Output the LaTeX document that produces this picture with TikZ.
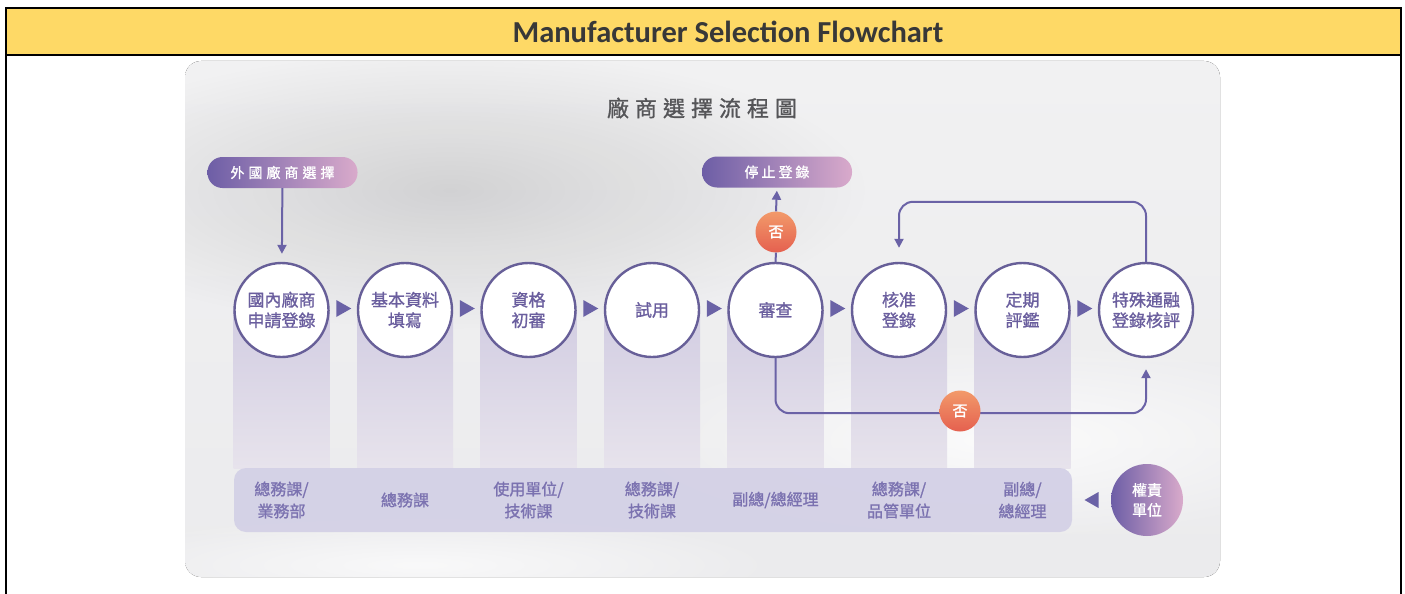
\documentclass[tikz,border=0pt]{standalone}
\usepackage{fontspec}
\setmainfont{Carlito}
\newfontfamily\cjk[FakeBold=1.2]{Noto Sans CJK TC}
\usetikzlibrary{shapes.geometric,arrows.meta,calc,fadings}
\tikzfading[name=softblob, inner color=transparent!0, outer color=transparent!100]
\definecolor{hdr}{HTML}{FED966}
\definecolor{lineC}{HTML}{6A62A6}
\definecolor{ring}{HTML}{675F98}
\definecolor{ctext}{HTML}{6A5E9E}
\definecolor{pillL}{HTML}{6D5EA6}
\definecolor{pillR}{HTML}{D9AACB}
\definecolor{noT}{HTML}{F29A6A}
\definecolor{noB}{HTML}{E5604F}
\definecolor{barC}{HTML}{D3D0E6}
\definecolor{barT}{HTML}{7B72B0}
\definecolor{colT}{HTML}{D2CDE2}
\definecolor{colB}{HTML}{E7E3EC}
\definecolor{bgA}{HTML}{F1F1F2}
\definecolor{bgB}{HTML}{EBEBED}
\definecolor{ttl}{HTML}{555558}
\tikzset{
  stepc/.style={circle, draw=ring, line width=2.4pt, fill=white, minimum size=94pt, inner sep=0pt,
    align=center, text=ctext, font=\cjk\fontsize{17}{20.5}\selectfont},
  pill/.style={rectangle, rounded corners=15pt, minimum width=150pt, minimum height=31pt, inner sep=0pt,
    left color=pillL, right color=pillR, text=white, font=\cjk\fontsize{14}{16}\selectfont},
  nonode/.style={circle, minimum size=41pt, inner sep=0pt, top color=noT,
    bottom color=noB, text=white, font=\cjk\fontsize{15}{16}\selectfont},
  barlbl/.style={align=center, text=barT, font=\cjk\fontsize{16}{22}\selectfont},
  conn/.style={draw=lineC, line width=2pt},
  arr/.style={conn, -{Triangle[length=9pt,width=9pt]}},
  colbox/.style={top color=colT, bottom color=colB},
  tri/.style={fill=lineC},
  blob/.style={path fading=softblob}
}
\begin{document}
\begin{tikzpicture}[x=1pt,y=-1pt]
\useasboundingbox (0,0) rectangle (1405,594);
\fill[white] (0,0) rectangle (1405,594);
% header
\fill[hdr] (6,8) rectangle (1401,55);
\draw[line width=2pt] (6,594) -- (6,8) -- (1401,8) -- (1401,594);
\draw[line width=2pt] (6,55) -- (1401,55);
\node[font=\bfseries\fontsize{30.5}{34}\selectfont, text=black!78] (hd) at (728,32) {Manufacturer Selection Flowchart};
% image background
\fill[rounded corners=16pt, top color=bgA, bottom color=bgB] (185,61) rectangle (1220,577);
\begin{scope}
  \clip[rounded corners=16pt] (185,61) rectangle (1220,577);
  \fill[black, opacity=0.12, blob] (450,190) ellipse [x radius=420, y radius=140];
  \fill[white, opacity=0.8, blob] (1000,440) ellipse [x radius=380, y radius=100];
  \fill[white, opacity=0.7, blob] (420,565) ellipse [x radius=360, y radius=50];
\end{scope}
\node[font=\cjk\fontsize{22}{24}\selectfont, text=ttl] (title) at (702,108)
  {廠\hspace{6pt}商\hspace{6pt}選\hspace{6pt}擇\hspace{6pt}流\hspace{6pt}程\hspace{6pt}圖};
% columns
\foreach \x in {281.5,405,528.5,652,775.5,899,1022.5}
  \fill[colbox] (\x-48,310) rectangle (\x+48,468);
% bottom bar
\node[fill=barC, fill opacity=0.92, rounded corners=12pt, minimum width=838pt, minimum height=64pt] (bar) at (653,500) {};
% circles
\node[stepc] (c1) at (281.5,310) {國內廠商\\申請登錄};
\node[stepc] (c2) at (405,310) {基本資料\\填寫};
\node[stepc] (c3) at (528.5,310) {資格\\初審};
\node[stepc] (c4) at (652,310) {試用};
\node[stepc] (c5) at (775.5,310) {審查};
\node[stepc] (c6) at (899,310) {核准\\登錄};
\node[stepc] (c7) at (1022.5,310) {定期\\評鑑};
\node[stepc] (c8) at (1146,310) {特殊通融\\登錄核評};
% triangles between circles
\foreach \a/\b in {c1/c2,c2/c3,c3/c4,c4/c5,c5/c6,c6/c7,c7/c8}
  \fill[tri] ($(\a.east)!0.5!(\b.west)+(0,-1.5)$) +(-7,-8.5) -- +(8,0) -- +(-7,8.5) -- cycle;
% pills
\node[pill] (p1) at (282.5,172.5) {外\hspace{4pt}國\hspace{4pt}廠\hspace{4pt}商\hspace{4pt}選\hspace{4pt}擇};
\node[pill] (p2) at (777,172) {停\hspace{3pt}止\hspace{3pt}登\hspace{3pt}錄};
% connectors
\draw[arr, shorten >=8pt] (p1) -- (c1);
\node[nonode] (no1) at (776,232) {否};
\draw[conn] (c5.north) -- (no1.south);
\draw[arr, shorten >=3pt] (no1.north) -- (p2.south);
\draw[arr, rounded corners=14pt, shorten >=14pt] (c8.north) -- ++(0,-60) -| (c6.north);
\draw[arr, rounded corners=14pt, shorten >=11pt] (c5.south) -- ++(0,55) -| (c8.south);
\node[nonode] (no2) at (960,411) {否};
% bar labels
\node[barlbl] (l1) at (281.5,500) {總務課/\\業務部};
\node[barlbl] (l2) at (405,500) {總務課};
\node[barlbl] (l3) at (528.5,500) {使用單位/\\技術課};
\node[barlbl] (l4) at (652,500) {總務課/\\技術課};
\node[barlbl] (l5) at (775.5,500) {副總/總經理};
\node[barlbl] (l6) at (899,500) {總務課/\\品管單位};
\node[barlbl] (l7) at (1022.5,500) {副總/\\總經理};
% responsibility circle
\node[circle, minimum size=72pt, inner sep=0pt, left color=pillL, right color=pillR, text=white,
  align=center, font=\cjk\fontsize{15}{20}\selectfont] (rs) at (1147,500) {權責\\單位};
\fill[tri] ($(bar.east)!0.5!(rs.west)$) +(7,-8) -- +(-7,0) -- +(7,8) -- cycle;
\end{tikzpicture}
\end{document}
